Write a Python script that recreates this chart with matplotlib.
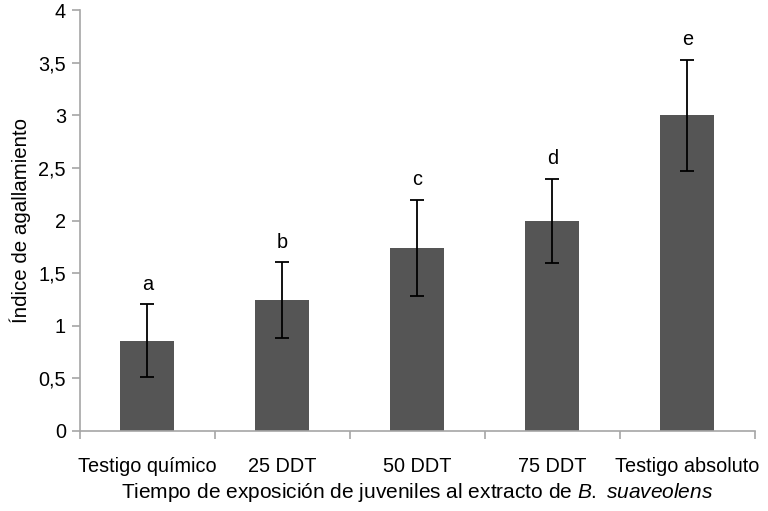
import numpy as np
from matplotlib import pyplot as plt
from matplotlib.ticker import FixedLocator

plt.rcParams['font.family'] = ['Liberation Sans', 'DejaVu Sans']
plt.rcParams['mathtext.fontset'] = 'custom'
plt.rcParams['mathtext.rm'] = 'Liberation Sans'
plt.rcParams['mathtext.it'] = 'Liberation Sans:italic'

# data
categories = ['Testigo químico', '25 DDT', '50 DDT', '75 DDT', 'Testigo absoluto']
means = [0.86, 1.245, 1.74, 2.0, 3.0]
errors = [0.345, 0.36, 0.46, 0.40, 0.53]
letters = ['a', 'b', 'c', 'd', 'e']

axis_grey = '#a6a6a6'
fs = 14.3

fig = plt.figure(figsize=(7.68, 5.11), dpi=100)
ax = fig.add_axes([0.104, 0.1566, 0.879, 0.8234])

x = np.arange(len(categories))
ax.bar(x, means, width=0.4, color='#555555', zorder=2)
ax.errorbar(x, means, yerr=errors, fmt='none', ecolor='black',
            elinewidth=1.3, capsize=5, capthick=1.3, zorder=3)

# significance letters above the error bars
for xi, m, e, l in zip(x, means, errors, letters):
    ax.text(xi, m + e + 0.1, l, ha='center', va='bottom', fontsize=fs)

ax.set_xlim(-0.5, len(categories) - 0.5)
ax.set_ylim(0, 4)
ax.set_yticks(np.arange(0, 4.01, 0.5))
ax.set_yticklabels(['0', '0,5', '1', '1,5', '2', '2,5', '3', '3,5', '4'])

ax.set_xticks(x)
ax.set_xticklabels(categories)
ax.xaxis.set_minor_locator(FixedLocator(np.arange(-0.5, len(categories), 1.0)))
ax.tick_params(axis='x', which='major', length=0, pad=19, labelsize=fs)
ax.tick_params(axis='x', which='minor', length=6, color=axis_grey, width=1.2)
ax.tick_params(axis='y', length=6, color=axis_grey, width=1.2, labelsize=fs, pad=4)

for side in ['top', 'right']:
    ax.spines[side].set_visible(False)
for side in ['left', 'bottom']:
    ax.spines[side].set_color(axis_grey)
    ax.spines[side].set_linewidth(1.2)

ax.set_xlabel('Tiempo de exposición de juveniles al extracto de $\\mathit{B.\\ suaveolens}$',
              fontsize=15, labelpad=3)
ax.set_ylabel('Índice de agallamiento', fontsize=14.8, labelpad=5)

fig.savefig('out.png', dpi=100)
